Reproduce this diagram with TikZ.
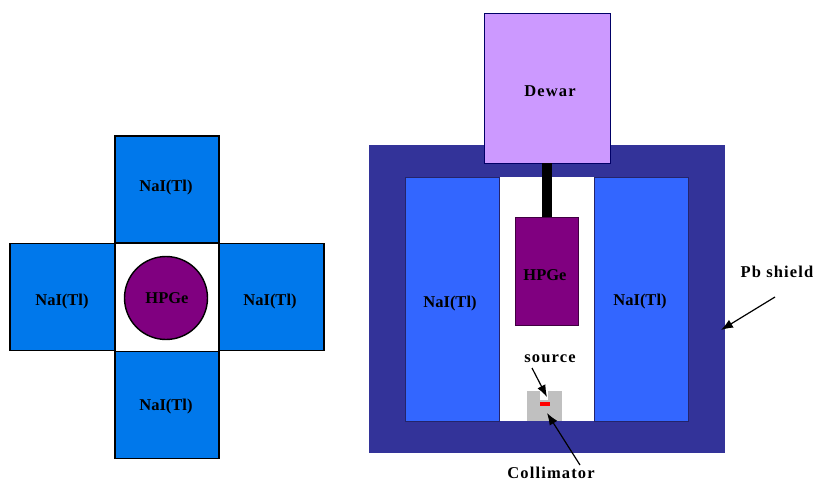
\documentclass[tikz,border=0pt]{standalone}
\usepackage{fontspec}
\setmainfont{Liberation Serif}
\usepackage{xcolor}
\usetikzlibrary{arrows.meta}

\definecolor{naiblue}{RGB}{0,120,235}
\definecolor{nailight}{RGB}{51,102,255}
\definecolor{pbnavy}{RGB}{51,51,153}
\definecolor{hpgepurple}{RGB}{128,0,128}
\definecolor{dewarlilac}{RGB}{204,153,255}
\definecolor{collgrey}{RGB}{192,192,192}

\newfontfamily\widelbl[LetterSpace=7]{Liberation Serif}

\tikzset{
    lbl/.style={font=\fontsize{16.5}{18}\selectfont\bfseries, text=black, inner sep=0pt},
    widelabel/.style={font=\fontsize{16.5}{18}\selectfont\widelbl\bfseries, text=black, inner sep=0pt},
    part/.style={rectangle, inner sep=0pt, minimum width=#1},
    naibox/.style={part=104pt, draw=black, line width=1.8pt, fill=naiblue, minimum height=107pt},
    nairight/.style={part=94pt, draw=pbnavy!70!black, line width=0.5pt, fill=nailight, minimum height=244pt},
    pointer/.style={-{Latex[length=12pt,width=9pt]}, line width=1.2pt, black}
}

\begin{document}
\begin{tikzpicture}[x=1pt, y=-1pt]
    \useasboundingbox (0,0) rectangle (815,481);

    % Top view
    \node[naibox] (naitop) at (167,189.5) {};
    \node[naibox] (naibottom) at (167,405) {};
    \node[naibox, minimum width=105pt] (naileft) at (62.5,297) {};
    \node[naibox, minimum width=105pt] (nairight) at (271.5,297) {};
    \node[circle, inner sep=0pt, draw=black, line width=1.4pt, fill=hpgepurple, minimum size=83pt] (hpgetop) at (166,298) {};
    \node[lbl] (lbltop) at (166,188) {NaI(Tl)};
    \node[lbl] (lblbottom) at (166,407) {NaI(Tl)};
    \node[lbl] (lblleft) at (62,302) {NaI(Tl)};
    \node[lbl] (lblright) at (270,302) {NaI(Tl)};
    \node[lbl] (lblhpgetop) at (167,298) {HPGe};

    % Side view: shield and crystals
    \node[part=356pt, fill=pbnavy, minimum height=308pt] (shield) at (547,299) {};
    \node[part=95pt, fill=white, minimum height=244pt] (well) at (546.5,299) {};
    \node[nairight] (naiside1) at (452,299) {};
    \node[nairight] (naiside2) at (641,299) {};
    \node[lbl] (lblside1) at (450,304) {NaI(Tl)};
    \node[lbl] (lblside2) at (640,302) {NaI(Tl)};

    % Detector
    \node[part=126pt, draw=black!60!blue, line width=0.7pt, fill=dewarlilac, minimum height=150pt] (dewar) at (547,88) {};
    \node[part=63pt, draw=black!50!hpgepurple, line width=0.5pt, fill=hpgepurple, minimum height=108pt] (hpgeside) at (546.5,271) {};
    \fill[black] (dewar.south)++(-5.5,0) rectangle ([xshift=5.5pt]hpgeside.north);
    \node[widelabel] (lbldewar) at (550,91) {Dewar};
    \node[lbl] (lblhpgeside) at (545,275) {HPGe};

    % Collimator
    \node[part=35pt, fill=collgrey, minimum height=30pt] (collimator) at (544.5,406) {};
    \node[part=8pt, fill=white, minimum height=9pt] (notch) at (544,395.5) {};
    \node[part=10pt, fill=red, minimum height=4pt] (sourcebar) at (545,404) {};

    % Labels and arrows
    \node[widelabel] (sourcelabel) at (550,359) {source};
    \node[widelabel] (colllabel) at (551,473) {Collimator};
    \node[widelabel] (pblabel) at (777,272) {Pb shield};
    \coordinate (sourcetail) at (532,368);
    \coordinate (sourcetip) at (547,397);
    \coordinate (colltail) at (580,465);
    \coordinate (colltip) at (547,413);
    \coordinate (pbtail) at (775,297);
    \coordinate (pbtip) at (721,330);
    \draw[pointer] (sourcetail) -- (sourcetip);
    \draw[pointer] (colltail) -- (colltip);
    \draw[pointer] (pbtail) -- (pbtip);
\end{tikzpicture}
\end{document}
